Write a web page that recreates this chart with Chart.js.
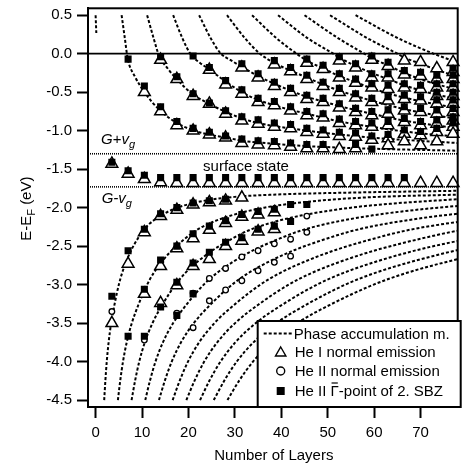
<!DOCTYPE html>
<html>
<head>
<meta charset="utf-8">
<script src="https://cdn.jsdelivr.net/npm/chart.js@4.4.1/dist/chart.umd.min.js"></script>
<style>
  html, body { margin: 0; padding: 0; background: #fff; }
  #wrap { width: 466px; height: 470px; }
</style>
</head>
<body>
<div id="wrap"><canvas id="qwChart" width="466" height="470"></canvas></div>
<script>
// ===== Data (x = number of layers, y = E - EF in eV) =====

const xTicks = [0, 10, 20, 30, 40, 50, 60, 70];
const yTicks = [0.5, 0.0, -0.5, -1.0, -1.5, -2.0, -2.5, -3.0, -3.5, -4.0, -4.5];
const xRange = [-1.64, 78.0];
const yRange = [-4.59, 0.59];

// reference levels
const fermiLevel = 0.0;
const gapEdgeUpper = -1.30;   // G+v_g
const gapEdgeLower = -1.73;   // G-v_g

// phase accumulation model, states above the gap
const pamUp0 = [[0.0, 0.5], [0.15, 0.27]];
const pamUp1 = [[5.6, 0.5], [6.3, 0.2], [6.9, -0.06], [8.5, -0.3], [10.3, -0.48], [12.2, -0.63], [14.1, -0.75], [17.5, -0.9], [20.8, -0.99], [24.4, -1.05], [28.2, -1.09], [31.5, -1.13], [38.5, -1.17], [45.5, -1.2], [52.5, -1.22], [63, -1.24], [78, -1.26]];
const pamUp2 = [[11.1, 0.5], [12.5, 0.2], [13.7, -0.03], [15.5, -0.19], [17.3, -0.32], [20.8, -0.52], [24.4, -0.65], [28.2, -0.76], [31.5, -0.84], [35, -0.9], [38.5, -0.94], [42, -0.97], [45.5, -1.0], [52.5, -1.05], [59.5, -1.09], [66.5, -1.12], [78, -1.16]];
const pamUp3 = [[16.7, 0.5], [18.7, 0.2], [20.5, -0.01], [22.5, -0.12], [24.4, -0.2], [28.2, -0.37], [31.5, -0.5], [35, -0.6], [38.5, -0.67], [42, -0.73], [45.5, -0.78], [49, -0.83], [52.5, -0.88], [59.5, -0.95], [66.5, -1.01], [78, -1.08]];
const pamUp4 = [[22.3, 0.5], [24.8, 0.2], [27, 0.0], [29, -0.08], [31.5, -0.17], [35, -0.29], [38.5, -0.39], [42, -0.48], [45.5, -0.56], [49, -0.62], [52.5, -0.68], [59.5, -0.78], [66.5, -0.87], [78, -0.97]];
const pamUp5 = [[28.3, 0.5], [32.2, 0.2], [35.4, 0.0], [38.5, -0.12], [42, -0.22], [45.5, -0.31], [49, -0.4], [52.5, -0.48], [59.5, -0.61], [66.5, -0.72], [78, -0.85]];
const pamUp6 = [[33.7, 0.5], [39, 0.2], [43.3, 0.0], [45.5, -0.09], [49, -0.19], [52.5, -0.29], [56, -0.37], [59.5, -0.45], [66.5, -0.57], [78, -0.71]];
const pamUp7 = [[39.3, 0.5], [45.7, 0.2], [51.2, 0.0], [52.5, -0.05], [56, -0.16], [59.5, -0.25], [63, -0.33], [66.5, -0.41], [72, -0.51], [78, -0.59]];
const pamUp8 = [[45, 0.5], [52.3, 0.2], [57.9, 0.0], [59.5, -0.06], [63, -0.15], [66.5, -0.25], [72, -0.37], [78, -0.47]];
const pamUp9 = [[50.5, 0.5], [58.6, 0.2], [65, 0.0], [66.5, -0.05], [70, -0.13], [73.5, -0.21], [78, -0.3]];
const pamUp10 = [[56, 0.5], [65.2, 0.2], [72.8, 0.0], [75, -0.05], [78, -0.11]];

// phase accumulation model, states below the gap
const pamLow1 = [[1.85, -4.5], [2.1, -4.25], [2.4, -4.0], [2.8, -3.75], [3.35, -3.5], [4.1, -3.25], [5.0, -3.0], [5.7, -2.85], [6.6, -2.7], [7.7, -2.55], [9.1, -2.4], [10.2, -2.3], [11.8, -2.2], [14.1, -2.1], [17.6, -2.0], [20.4, -1.95], [24.4, -1.9], [29.9, -1.86], [38.9, -1.83], [58.9, -1.8], [79, -1.78]];
const pamLow2 = [[4.8, -4.5], [5.3, -4.25], [5.9, -4.0], [6.7, -3.75], [7.8, -3.5], [9.3, -3.25], [11.1, -3.0], [12.5, -2.85], [14.3, -2.7], [16.5, -2.55], [19.3, -2.4], [21.5, -2.3], [24.7, -2.2], [29.3, -2.1], [36.3, -2.0], [41.9, -1.95], [49.9, -1.9], [60.9, -1.86], [79, -1.83]];
const pamLow3 = [[7.75, -4.5], [8.5, -4.25], [9.4, -4.0], [10.6, -3.75], [12.25, -3.5], [14.5, -3.25], [17.2, -3.0], [19.3, -2.85], [22.0, -2.7], [25.3, -2.55], [29.5, -2.4], [32.8, -2.3], [37.6, -2.2], [44.5, -2.1], [55.0, -2.0], [63.4, -1.95], [75.4, -1.9], [80, -1.885]];
const pamLow4 = [[10.7, -4.5], [11.7, -4.25], [12.9, -4.0], [14.5, -3.75], [16.7, -3.5], [19.7, -3.25], [23.3, -3.0], [26.1, -2.85], [29.7, -2.7], [34.1, -2.55], [39.7, -2.4], [44.1, -2.3], [50.5, -2.2], [59.7, -2.1], [73.7, -2.0], [84.9, -1.95]];
const pamLow5 = [[13.65, -4.5], [14.9, -4.25], [16.4, -4.0], [18.4, -3.75], [21.15, -3.5], [24.9, -3.25], [29.4, -3.0], [32.9, -2.85], [37.4, -2.7], [42.9, -2.55], [49.9, -2.4], [55.4, -2.3], [63.4, -2.2], [74.9, -2.1], [92.4, -2.0]];
const pamLow6 = [[16.6, -4.5], [18.1, -4.25], [19.9, -4.0], [22.3, -3.75], [25.6, -3.5], [30.1, -3.25], [35.5, -3.0], [39.7, -2.85], [45.1, -2.7], [51.7, -2.55], [60.1, -2.4], [66.7, -2.3], [76.3, -2.2], [90.1, -2.1]];
const pamLow7 = [[19.55, -4.5], [21.3, -4.25], [23.4, -4.0], [26.2, -3.75], [30.05, -3.5], [35.3, -3.25], [41.6, -3.0], [46.5, -2.85], [52.8, -2.7], [60.5, -2.55], [70.3, -2.4], [78.0, -2.3], [89, -2.2]];
const pamLow8 = [[22.5, -4.5], [24.5, -4.25], [26.9, -4.0], [30.1, -3.75], [34.5, -3.5], [40.5, -3.25], [47.7, -3.0], [53.3, -2.85], [60.5, -2.7], [69.3, -2.55], [80.5, -2.4]];
const pamLow9 = [[25.45, -4.5], [27.7, -4.25], [30.4, -4.0], [34.0, -3.75], [38.95, -3.5], [45.7, -3.25], [53.8, -3.0], [60.1, -2.85], [68.2, -2.7], [78.1, -2.55], [90, -2.4]];
const pamLow10 = [[28.4, -4.5], [30.9, -4.25], [33.9, -4.0], [37.9, -3.75], [43.4, -3.5], [50.9, -3.25], [59.9, -3.0], [66.9, -2.85], [75.9, -2.7], [86.9, -2.55]];

// He I normal emission (triangles)
const heIUpper = [
  [10.5, -0.50], [14, -0.08], [14, -0.75], [17.5, -0.33], [17.5, -0.93], [21, -0.55], [21, -1.00],
  [24.5, -0.21], [24.5, -0.65], [24.5, -1.05], [28, -0.40], [28, -0.78], [28, -1.09],
  [31.5, -0.18], [31.5, -0.52], [31.5, -0.87], [31.5, -1.16],
  [35, -0.31], [35, -0.63], [35, -0.91], [35, -1.18],
  [38.5, -0.14], [38.5, -0.42], [38.5, -0.67], [38.5, -0.95], [38.5, -1.19],
  [42, -0.23], [42, -0.50], [42, -0.74], [42, -0.97], [42, -1.21],
  [45.5, -0.12], [45.5, -0.33], [45.5, -0.59], [45.5, -0.80], [45.5, -1.02], [45.5, -1.23],
  [49, -0.20], [49, -0.42], [49, -0.63], [49, -0.83], [49, -1.04], [49, -1.23],
  [52.5, -0.09], [52.5, -0.31], [52.5, -0.50], [52.5, -0.70], [52.5, -0.90], [52.5, -1.07], [52.5, -1.24],
  [56, -0.18], [56, -0.38], [56, -0.57], [56, -0.76], [56, -0.93], [56, -1.08], [56, -1.23],
  [59.5, -0.08], [59.5, -0.31], [59.5, -0.44], [59.5, -0.63], [59.5, -0.80], [59.5, -0.95], [59.5, -1.12],
  [63, -0.16], [63, -0.31], [63, -0.46], [63, -0.61], [63, -0.78], [63, -0.93], [63, -1.10], [63, -1.19],
  [66.5, -0.09], [66.5, -0.27], [66.5, -0.44], [66.5, -0.59], [66.5, -0.74], [66.5, -0.89], [66.5, -1.04], [66.5, -1.14],
  [70, -0.11], [70, -0.29], [70, -0.46], [70, -0.61], [70, -0.76], [70, -0.93], [70, -1.06], [70, -1.19],
  [73.5, -0.19], [73.5, -0.33], [73.5, -0.44], [73.5, -0.55], [73.5, -0.65], [73.5, -0.78], [73.5, -0.91], [73.5, -1.02], [73.5, -1.14],
  [77, -0.11], [77, -0.24], [77, -0.33], [77, -0.44], [77, -0.55], [77, -0.65], [77, -0.76], [77, -0.87], [77, -0.95], [77, -1.04]
];
const heISurface = [
  [3.5, -1.43], [7, -1.56], [10.5, -1.63], [14, -1.67], [17.5, -1.68], [21, -1.68], [24.5, -1.68], [28, -1.68],
  [31.5, -1.68], [35, -1.68], [38.5, -1.68], [42, -1.68], [45.5, -1.68], [49, -1.68], [52.5, -1.68], [56, -1.68],
  [59.5, -1.68], [63, -1.68], [66.5, -1.68], [70, -1.68], [73.5, -1.68], [77, -1.68]
];
const heILower = [
  [3.5, -3.50], [7, -2.73], [10.5, -2.32], [10.5, -3.12], [14, -2.11], [14, -2.76], [14, -3.24],
  [17.5, -2.03], [17.5, -2.53], [17.5, -3.01], [21, -1.96], [21, -2.40], [21, -2.76],
  [24.5, -1.93], [24.5, -2.29], [24.5, -2.67], [28, -1.91], [28, -2.20], [28, -2.50],
  [31.5, -1.87], [31.5, -2.12], [31.5, -2.43], [35, -2.09], [35, -2.31], [38.5, -2.06], [38.5, -2.28]
];

// He II normal emission (circles)
const heIINormal = [
  [3.5, -3.35], [10.5, -3.72], [14, -3.24], [17.5, -3.37], [21, -3.11], [21, -3.56],
  [24.5, -2.92], [24.5, -3.21], [28, -2.79], [28, -3.07], [31.5, -2.64], [31.5, -2.95],
  [35, -2.56], [35, -2.82], [38.5, -2.47], [38.5, -2.71], [42, -2.41], [42, -2.63], [45.5, -2.11], [45.5, -2.32]
];

// He II at Gamma-bar point of 2nd SBZ (filled squares)
const heIIGammaUpper = [
  [7, -0.07], [10.5, -0.42], [14, -0.04], [14, -0.69], [17.5, -0.30], [17.5, -0.88],
  [21, -0.03], [21, -0.52], [21, -0.97], [24.5, -0.18], [24.5, -0.64], [24.5, -1.02],
  [28, -0.35], [28, -0.74], [28, -1.07],
  [31.5, -0.13], [31.5, -0.47], [31.5, -0.82], [31.5, -1.11],
  [35, -0.26], [35, -0.58], [35, -0.86], [35, -1.13],
  [38.5, -0.09], [38.5, -0.37], [38.5, -0.62], [38.5, -0.90], [38.5, -1.14],
  [42, -0.18], [42, -0.45], [42, -0.69], [42, -0.92], [42, -1.16],
  [45.5, -0.07], [45.5, -0.28], [45.5, -0.54], [45.5, -0.75], [45.5, -0.97], [45.5, -1.18],
  [49, -0.15], [49, -0.37], [49, -0.58], [49, -0.78], [49, -0.99], [49, -1.18],
  [52.5, -0.04], [52.5, -0.26], [52.5, -0.45], [52.5, -0.65], [52.5, -0.85], [52.5, -1.02],
  [56, -0.13], [56, -0.33], [56, -0.52], [56, -0.71], [56, -0.88], [56, -1.03], [56, -1.18],
  [59.5, -0.03], [59.5, -0.26], [59.5, -0.39], [59.5, -0.58], [59.5, -0.75], [59.5, -0.90], [59.5, -1.07], [59.5, -1.24],
  [63, -0.11], [63, -0.26], [63, -0.41], [63, -0.56], [63, -0.73], [63, -0.88], [63, -1.05],
  [66.5, -0.22], [66.5, -0.39], [66.5, -0.54], [66.5, -0.69], [66.5, -0.84], [66.5, -0.99],
  [70, -0.24], [70, -0.41], [70, -0.56], [70, -0.71], [70, -0.88], [70, -1.01],
  [73.5, -0.28], [73.5, -0.39], [73.5, -0.50], [73.5, -0.60], [73.5, -0.73], [73.5, -0.86], [73.5, -0.97],
  [77, -0.19], [77, -0.28], [77, -0.39], [77, -0.50], [77, -0.60], [77, -0.71], [77, -0.82], [77, -0.90]
];
const heIIGammaSurface = [
  [3.5, -1.41], [7, -1.52], [10.5, -1.58], [14, -1.61], [17.5, -1.61], [21, -1.61], [24.5, -1.61], [28, -1.61],
  [31.5, -1.61], [35, -1.61], [38.5, -1.61], [42, -1.61], [45.5, -1.61], [49, -1.61], [52.5, -1.61], [56, -1.61],
  [59.5, -1.61], [63, -1.61], [66.5, -1.61]
];
const heIIGammaLower = [
  [3.5, -3.15], [7, -2.56], [7, -3.67], [10.5, -2.28], [10.5, -3.06], [10.5, -3.67],
  [14, -2.08], [14, -2.68], [14, -3.29], [17.5, -2.00], [17.5, -2.50], [17.5, -2.97], [17.5, -3.40],
  [21, -1.94], [21, -2.34], [21, -2.72], [21, -3.12], [24.5, -1.91], [24.5, -2.24], [24.5, -2.58],
  [28, -1.89], [28, -2.17], [28, -2.45], [31.5, -2.09], [31.5, -2.39], [35, -2.05], [35, -2.28],
  [38.5, -2.02], [38.5, -2.24], [42, -1.96], [42, -2.18], [45.5, -1.96]
];

const legendLabels = ["Phase accumulation m.", "He I normal emission", "He II normal emission", "He II \u0393-point of 2. SBZ"];

// ===== Chart =====

const FONT = 'Arial, "Liberation Sans", Helvetica, sans-serif';
Chart.defaults.font.family = FONT;
Chart.defaults.font.size = 15;
Chart.defaults.color = "#000";

const toPts = arr => arr.map(([x, y]) => ({ x, y }));

function modelCurve(pts) {
  return {
    data: toPts(pts),
    showLine: true,
    borderColor: "#000",
    borderWidth: 2,
    borderDash: [3, 2],
    pointRadius: 0,
    pointHoverRadius: 0,
    fill: false,
    cubicInterpolationMode: "monotone",
  };
}

function levelLine(e, width, dash) {
  return {
    data: [{ x: xRange[0], y: e }, { x: xRange[1], y: e }],
    showLine: true,
    borderColor: "#000",
    borderWidth: width,
    borderDash: dash,
    pointRadius: 0,
    pointHoverRadius: 0,
  };
}

function markers(pts, style, radius, fillColor, borderWidth) {
  return {
    data: toPts(pts),
    showLine: false,
    pointStyle: style,
    pointRadius: radius,
    pointHoverRadius: radius,
    pointBackgroundColor: fillColor,
    pointBorderColor: "#000",
    pointBorderWidth: borderWidth,
    clip: 6,
  };
}

const upperCurves = [pamUp0, pamUp1, pamUp2, pamUp3, pamUp4, pamUp5, pamUp6, pamUp7, pamUp8, pamUp9, pamUp10];
const lowerCurves = [pamLow1, pamLow2, pamLow3, pamLow4, pamLow5, pamLow6, pamLow7, pamLow8, pamLow9, pamLow10];

// first dataset is drawn on top
const datasets = [
  markers(heIIGammaUpper.concat(heIIGammaSurface, heIIGammaLower), "rect", 5, "#000", 0),
  markers(heIUpper.concat(heISurface, heILower), "triangle", 6.8, "#fff", 1.5),
  markers(heIINormal, "circle", 2.8, "#fff", 1.3),
  ...upperCurves.map(modelCurve),
  ...lowerCurves.map(modelCurve),
  levelLine(fermiLevel, 1.8, []),
  levelLine(gapEdgeUpper, 1.6, [1, 1]),
  levelLine(gapEdgeLower, 1.6, [1, 1]),
];

// text with a subscript: parts = [[text, font, dy], ...]
function drawRich(ctx, parts, x, y, align) {
  let w = 0;
  parts.forEach(p => { ctx.font = p[1]; w += ctx.measureText(p[0]).width; });
  let cx = align === "center" ? x - w / 2 : x;
  parts.forEach(p => {
    ctx.font = p[1];
    ctx.fillText(p[0], cx, y + (p[2] || 0));
    cx += ctx.measureText(p[0]).width;
  });
}

function triPath(ctx, x, y, r) {
  ctx.beginPath();
  ctx.moveTo(x, y - r);
  ctx.lineTo(x + r * 0.866, y + r / 2);
  ctx.lineTo(x - r * 0.866, y + r / 2);
  ctx.closePath();
}

const overlay = {
  id: "overlay",
  beforeDraw(chart) {
    const ctx = chart.ctx;
    ctx.save();
    ctx.fillStyle = "#fff";
    ctx.fillRect(0, 0, chart.width, chart.height);
    ctx.restore();
  },
  afterDraw(chart) {
    const { ctx, chartArea: a, scales } = chart;
    const xs = scales.x, ys = scales.y;
    ctx.save();
    ctx.fillStyle = "#000";
    ctx.strokeStyle = "#000";
    ctx.textBaseline = "alphabetic";

    // frame
    ctx.lineWidth = 2;
    ctx.strokeRect(a.left, a.top, a.right - a.left, a.bottom - a.top);

    // annotations
    const it = "italic 15px " + FONT, itSub = "italic 11px " + FONT;
    drawRich(ctx, [["G+v", it], ["g", itSub, 4]], xs.getPixelForValue(1.15), ys.getPixelForValue(-1.167), "left");
    drawRich(ctx, [["G-v", it], ["g", itSub, 4]], xs.getPixelForValue(1.3), ys.getPixelForValue(-1.936), "left");
    ctx.font = "15px " + FONT;
    ctx.textAlign = "center";
    ctx.fillText("surface state", xs.getPixelForValue(32.4), ys.getPixelForValue(-1.53));

    // axis titles
    ctx.fillText("Number of Layers", (a.left + a.right) / 2 + 1, 460);
    ctx.textAlign = "left";
    ctx.save();
    ctx.translate(31, (a.top + a.bottom) / 2 + 1);
    ctx.rotate(-Math.PI / 2);
    drawRich(ctx, [["E-E", "15px " + FONT], ["F", "11px " + FONT, 4], [" (eV)", "15px " + FONT]], 0, 0, "center");
    ctx.restore();

    // legend box
    const L = { left: a.right - 200, top: a.bottom - 86, right: a.right + 3, bottom: a.bottom };
    ctx.fillStyle = "#fff";
    ctx.fillRect(L.left, L.top, L.right - L.left, L.bottom - L.top);
    ctx.lineWidth = 2;
    ctx.strokeRect(L.left, L.top, L.right - L.left, L.bottom - L.top);

    const rows = [L.top + 12.5, L.top + 31, L.top + 50, L.top + 70];
    const mx = L.left + 23, tx = L.left + 37;
    ctx.fillStyle = "#000";
    ctx.font = "15px " + FONT;
    ctx.textBaseline = "middle";

    ctx.setLineDash([3, 2]);
    ctx.lineWidth = 2;
    ctx.beginPath();
    ctx.moveTo(L.left + 6, rows[0]);
    ctx.lineTo(L.left + 36, rows[0]);
    ctx.stroke();
    ctx.setLineDash([]);

    triPath(ctx, mx, rows[1] + 1, 6);
    ctx.fillStyle = "#fff"; ctx.fill();
    ctx.lineWidth = 1.4; ctx.stroke();

    ctx.beginPath();
    ctx.arc(mx, rows[2], 4, 0, Math.PI * 2);
    ctx.fill(); ctx.stroke();

    ctx.fillStyle = "#000";
    ctx.fillRect(mx - 4, rows[3] - 4, 8, 8);

    legendLabels.forEach((t, i) => ctx.fillText(t, i === 0 ? tx - 1 : tx, rows[i] + 1));

    // bar over Gamma
    const pre = ctx.measureText("He II ").width;
    const gw = ctx.measureText("\u0393").width;
    ctx.lineWidth = 1.2;
    ctx.beginPath();
    ctx.moveTo(tx + pre + 1, rows[3] - 8);
    ctx.lineTo(tx + pre + gw - 1, rows[3] - 8);
    ctx.stroke();

    ctx.restore();
  },
};

new Chart(document.getElementById("qwChart"), {
  type: "scatter",
  data: { datasets },
  options: {
    responsive: false,
    devicePixelRatio: 1,
    animation: false,
    events: [],
    layout: { padding: { top: 3, right: 4, left: 0, bottom: 0 } },
    plugins: { legend: { display: false }, tooltip: { enabled: false } },
    scales: {
      x: {
        type: "linear",
        min: xRange[0],
        max: xRange[1],
        afterBuildTicks: s => { s.ticks = xTicks.map(v => ({ value: v })); },
        afterFit: s => { s.height = 63; s.paddingLeft = 0; s.paddingRight = 0; },
        ticks: { autoSkip: false, maxRotation: 0, padding: 6, callback: v => String(v) },
        grid: { drawOnChartArea: false, tickLength: 11, tickWidth: 2, tickColor: "#000" },
        border: { display: true, color: "#000", width: 2 },
      },
      y: {
        type: "linear",
        min: yRange[0],
        max: yRange[1],
        afterBuildTicks: s => { s.ticks = yTicks.map(v => ({ value: v })); },
        afterFit: s => { s.width = 88; s.paddingTop = 0; s.paddingBottom = 0; },
        ticks: { autoSkip: false, padding: 5, callback: v => v.toFixed(1) },
        grid: { drawOnChartArea: false, tickLength: 11, tickWidth: 2, tickColor: "#000" },
        border: { display: true, color: "#000", width: 2 },
      },
    },
  },
  plugins: [overlay],
});
</script>
</body>
</html>
